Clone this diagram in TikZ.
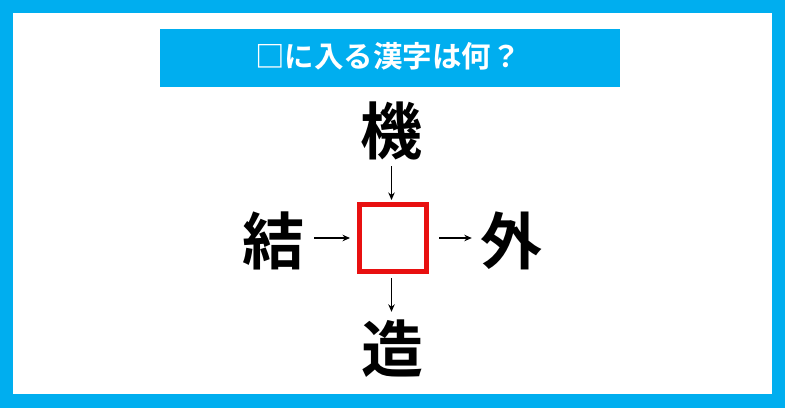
\documentclass[tikz,border=0pt]{standalone}
\usepackage{fontspec}
\usetikzlibrary{arrows.meta}
\newfontfamily\jpbold{Noto Sans CJK JP Bold}
\definecolor{cyanbar}{RGB}{0,174,239}
\definecolor{boxred}{RGB}{232,16,16}
\begin{document}
\begin{tikzpicture}[x=1pt,y=-1pt,
  kanji/.style={inner sep=0pt, minimum size=62pt, font=\jpbold\fontsize{62pt}{62pt}\selectfont, text=black},
  arr/.style={line width=1.5pt, -{Stealth[length=7.5pt,width=6.5pt]}},
  blankbox/.style={draw=boxred, line width=5pt, minimum size=67pt, inner sep=0pt, fill=white}]
\useasboundingbox (0,0) rectangle (785,408);
\fill[cyanbar] (0,0) rectangle (785,408);
\fill[white] (13,13) rectangle (772,394);
\fill[cyanbar] (160,29) rectangle (620,87);
\node[text=white, font=\jpbold\fontsize{29.5pt}{29.5pt}\selectfont, inner sep=0pt] (title) at (388,56) {□に入る漢字は何？};
\node[blankbox] (box) at (393,238) {};
\node[kanji] (ki) at (391.5,131) {機};
\node[kanji] (ketsu) at (273,241) {結};
\node[kanji] (soto) at (511,241) {外};
\node[kanji] (zou) at (392,349) {造};
\draw[arr, shorten <=10pt, shorten >=7pt] (ketsu.east |- box.west) -- (box.west);
\draw[arr, shorten <=10pt, shorten >=8pt] (box.east) -- (box.east -| soto.west);
\draw[arr, shorten <=4pt, shorten >=2pt] (ki.south) -- (ki.south |- box.north);
\draw[arr, shorten <=4pt, shorten >=6pt] (ki.south |- box.south) -- (ki.south |- zou.north);
\end{tikzpicture}
\end{document}
